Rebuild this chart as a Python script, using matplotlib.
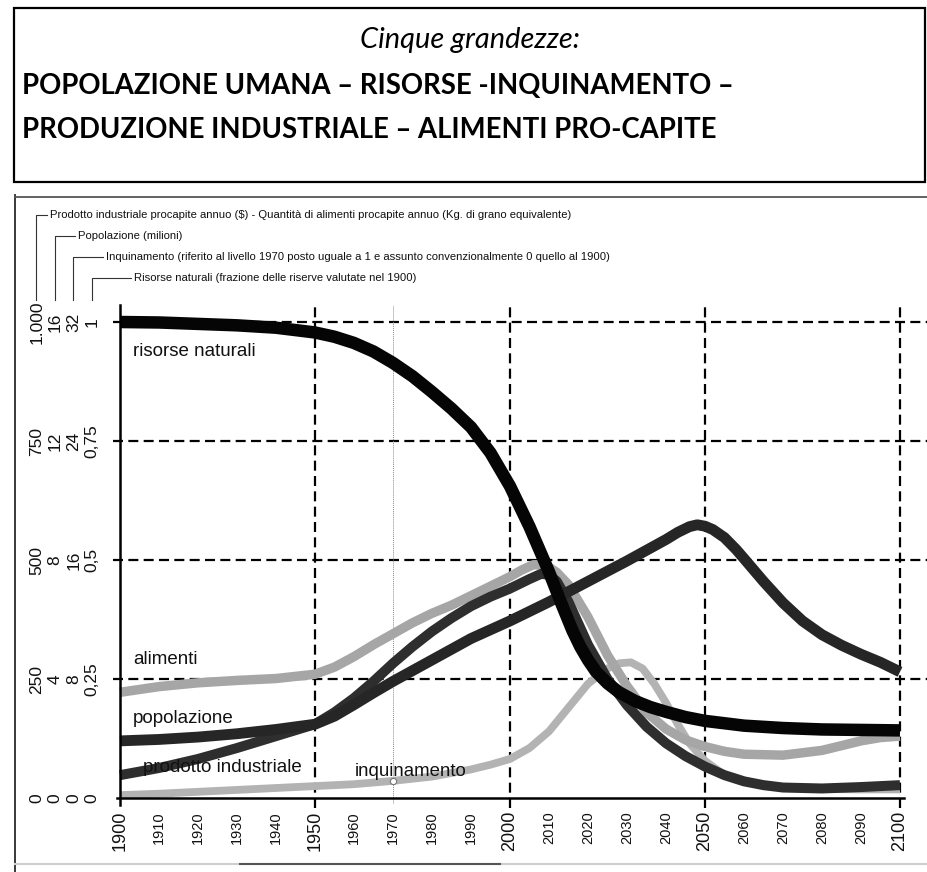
import matplotlib
matplotlib.use("Agg")
import matplotlib.pyplot as plt
from matplotlib import transforms
from matplotlib.lines import Line2D
from matplotlib.patches import Rectangle

# ---------------- data ----------------
risorse_anni = [1900, 1910, 1920, 1930, 1940, 1950, 1955, 1960, 1965, 1970, 1975,
                1980, 1985, 1990, 1995, 2000, 2005, 2010, 2013, 2016, 2018, 2020,
                2022, 2025, 2028, 2032, 2036, 2040, 2045, 2050, 2060, 2070, 2080,
                2090, 2100]
risorse = [1.000, 0.999, 0.996, 0.993, 0.988, 0.978, 0.969, 0.956, 0.938, 0.914,
           0.886, 0.853, 0.818, 0.779, 0.725, 0.655, 0.570, 0.475, 0.412, 0.352,
           0.318, 0.290, 0.266, 0.241, 0.222, 0.204, 0.191, 0.181, 0.170, 0.162,
           0.152, 0.147, 0.144, 0.143, 0.142]

popolazione_anni = [1900, 1910, 1920, 1930, 1940, 1950, 1955, 1960, 1965, 1970,
                    1980, 1990, 2000, 2010, 2020, 2030, 2040, 2043, 2046, 2048,
                    2050, 2052, 2055, 2058, 2060, 2065, 2070, 2075, 2080, 2085,
                    2090, 2095, 2100]
popolazione = [0.120, 0.123, 0.128, 0.135, 0.144, 0.155, 0.172, 0.196, 0.221, 0.245,
               0.290, 0.335, 0.372, 0.412, 0.455, 0.498, 0.543, 0.558, 0.570, 0.574,
               0.571, 0.564, 0.547, 0.522, 0.503, 0.455, 0.410, 0.372, 0.343, 0.321,
               0.302, 0.285, 0.265]

prodotto_anni = [1900, 1910, 1920, 1930, 1940, 1950, 1955, 1960, 1965, 1970, 1975,
                 1980, 1985, 1990, 1995, 2000, 2005, 2008, 2010, 2012, 2015, 2020,
                 2025, 2030, 2035, 2040, 2045, 2050, 2055, 2060, 2065, 2070, 2080,
                 2090, 2100]
prodotto = [0.048, 0.063, 0.082, 0.105, 0.130, 0.155, 0.180, 0.210, 0.245, 0.283,
            0.318, 0.350, 0.378, 0.403, 0.423, 0.440, 0.460, 0.471, 0.469, 0.455,
            0.412, 0.322, 0.250, 0.195, 0.150, 0.115, 0.088, 0.066, 0.048, 0.035,
            0.027, 0.022, 0.020, 0.023, 0.027]

alimenti_anni = [1900, 1910, 1920, 1930, 1940, 1950, 1955, 1960, 1965, 1970, 1975,
                 1980, 1985, 1990, 1995, 2000, 2003, 2006, 2009, 2012, 2015, 2020,
                 2025, 2030, 2035, 2040, 2045, 2050, 2055, 2060, 2070, 2080, 2085,
                 2090, 2095, 2100]
alimenti = [0.222, 0.234, 0.242, 0.247, 0.251, 0.260, 0.275, 0.297, 0.322, 0.345,
            0.368, 0.388, 0.405, 0.425, 0.445, 0.465, 0.479, 0.490, 0.490, 0.474,
            0.448, 0.380, 0.300, 0.235, 0.180, 0.145, 0.122, 0.108, 0.098, 0.092,
            0.090, 0.100, 0.110, 0.120, 0.127, 0.130]

inquinamento_anni = [1900, 1910, 1920, 1930, 1940, 1950, 1960, 1970, 1980, 1990,
                     1995, 2000, 2005, 2010, 2015, 2020, 2025, 2028, 2031, 2034,
                     2037, 2040, 2043, 2046, 2050, 2055, 2060, 2070, 2080, 2090, 2100]
inquinamento = [0.006, 0.009, 0.013, 0.017, 0.021, 0.025, 0.029, 0.036, 0.045, 0.060,
                0.070, 0.082, 0.105, 0.140, 0.190, 0.240, 0.272, 0.283, 0.285, 0.272,
                0.240, 0.200, 0.155, 0.115, 0.078, 0.048, 0.034, 0.022, 0.019, 0.018,
                0.018]

major_years = [1900, 1950, 2000, 2050, 2100]
minor_years = [1910, 1920, 1930, 1940, 1960, 1970, 1980, 1990, 2010, 2020, 2030,
               2040, 2060, 2070, 2080, 2090]
grid_levels = [0.25, 0.5, 0.75, 1.0]
ytick_levels = [0, 0.25, 0.5, 0.75, 1.0]
ycol_industria = ["0", "250", "500", "750", "1.000"]
ycol_popolazione = ["0", "4", "8", "12", "16"]
ycol_inquinamento = ["0", "8", "16", "24", "32"]
ycol_risorse = ["0", "0,25", "0,5", "0,75", "1"]

header_lines = [
    "Prodotto industriale procapite annuo ($) - Quantità di alimenti procapite annuo (Kg. di grano equivalente)",
    "Popolazione (milioni)",
    "Inquinamento (riferito al livello 1970 posto uguale a 1 e assunto convenzionalmente 0 quello al 1900)",
    "Risorse naturali (frazione delle riserve valutate nel 1900)",
]

# ---------------- figure ----------------
W, H = 928, 872
fig = plt.figure(figsize=(W / 100, H / 100), dpi=100)
fig.patch.set_facecolor("white")

def fx(px):
    return px / W

def fy(py):
    return 1 - py / H

SANS = ["Liberation Sans", "DejaVu Sans"]
TITLE = ["Lato", "Open Sans", "DejaVu Sans"]

# title box
fig.patches.append(Rectangle((fx(14), fy(182)), fx(925) - fx(14), fy(8) - fy(182),
                             transform=fig.transFigure, fill=False, lw=1.6,
                             edgecolor="black"))
renderer = fig.canvas.get_renderer()

def fit(t, target):
    w = t.get_window_extent(renderer).width
    t.set_fontsize(t.get_fontsize() * target / w)

t0 = fig.text(fx(470), fy(40), "Cinque grandezze:", ha="center", va="center",
              fontsize=18, style="italic", family=TITLE)
fit(t0, 220)
t1 = fig.text(fx(22), fy(86), "POPOLAZIONE UMANA – RISORSE -INQUINAMENTO –",
              ha="left", va="center", fontsize=18, weight="bold", family=TITLE)
fit(t1, 713)
t2 = fig.text(fx(22), fy(130), "PRODUZIONE INDUSTRIALE – ALIMENTI PRO-CAPITE",
              ha="left", va="center", fontsize=t1.get_fontsize(), weight="bold",
              family=TITLE)

# chart frame (scanned page border)
fig.lines.append(Line2D([fx(15), fx(15)], [fy(195), fy(872)], transform=fig.transFigure,
                        color="#2a2a2a", lw=1.3))
fig.lines.append(Line2D([fx(15), fx(928)], [fy(197), fy(197)], transform=fig.transFigure,
                        color="#555555", lw=1.3))
fig.lines.append(Line2D([fx(15), fx(928)], [fy(864), fy(864)], transform=fig.transFigure,
                        color="#cfcfcf", lw=1.5))
fig.lines.append(Line2D([fx(240), fx(500)], [fy(864), fy(864)], transform=fig.transFigure,
                        color="#555555", lw=1.5))

# header legend lines with brackets
hdr_y = [215, 236, 257, 278]
hdr_vx = [36, 55, 73, 92]
hdr_tx = [50, 78, 106, 134]
ht = []
for txt, yy, vx, tx in zip(header_lines, hdr_y, hdr_vx, hdr_tx):
    t = fig.text(fx(tx), fy(yy), txt, ha="left", va="center", fontsize=8.5,
                 family=SANS, color="#111111")
    ht.append(t)
    fig.lines.append(Line2D([fx(vx), fx(vx), fx(tx - 3)], [fy(300), fy(yy), fy(yy)],
                            transform=fig.transFigure, color="#333333", lw=0.8))
fit(ht[0], 521)
for t in ht[1:]:
    t.set_fontsize(ht[0].get_fontsize())

# ---------------- axes ----------------
x_left, x_right = 120, 928
y_top, y_bot = 300, 798
ax = fig.add_axes([fx(x_left), fy(y_bot), fx(x_right) - fx(x_left), fy(y_top) - fy(y_bot)])
ax.set_xlim(1900, 2100 + (928 - 900) / 3.9)
ax.set_ylim(0, (798 - 300) / 476)
ax.set_facecolor("none")
for s in ["top", "right"]:
    ax.spines[s].set_visible(False)
ax.spines["left"].set_bounds(-0.015, 1.036)
ax.spines["bottom"].set_bounds(1899.2, 2101)
for s in ["left", "bottom"]:
    ax.spines[s].set_linewidth(1.8)
    ax.spines[s].set_color("black")
    ax.spines[s].set_zorder(6)
ax.set_xticks([])
ax.set_yticks([])

dash = (0, (4.5, 2.4))
ax.hlines(grid_levels, 1898.2, ax.get_xlim()[1], colors="black", linestyles=dash,
          lw=1.6, clip_on=False, zorder=1)
ax.vlines([1950, 2000, 2050, 2100], -0.022, 1.036, colors="black", linestyles=dash,
          lw=1.6, clip_on=False, zorder=1)
ax.vlines([1970], -0.01, 1.036, colors="#8a8a8a", linestyles=(0, (1, 1)), lw=0.7,
          clip_on=False, zorder=1)

# curves
kw = dict(solid_capstyle="butt", solid_joinstyle="round", clip_on=False)
ax.plot(inquinamento_anni, inquinamento, color="#b3b3b3", lw=5.6, zorder=2, **kw)
ax.plot(alimenti_anni, alimenti, color="#a6a6a6", lw=6.8, zorder=2, **kw)
ax.plot(prodotto_anni, prodotto, color="#2e2e2e", lw=7.2, zorder=3, **kw)
ax.plot(popolazione_anni, popolazione, color="#262626", lw=7.8, zorder=3, **kw)
ax.plot(risorse_anni, risorse, color="#050505", lw=9.0, zorder=4, **kw)
i70 = inquinamento_anni.index(1970)
ax.plot([inquinamento_anni[i70]], [inquinamento[i70]], marker="o", ms=4.5,
        mfc="white", mec="#777777", mew=0.8, zorder=5, clip_on=False)

# curve labels
lab_kw = dict(family=SANS, fontsize=13.5, color="#111111", va="center", ha="left", zorder=7)
ax.text(1903.3, 0.937, "risorse naturali", **lab_kw)
ax.text(1903.3, 0.292, "alimenti", **lab_kw)
ax.text(1903.3, 0.168, "popolazione", **lab_kw)
ax.text(1905.9, 0.065, "prodotto industriale", **lab_kw)
ax.text(1960.3, 0.055, "inquinamento", **{**lab_kw, "fontsize": 13.4})

# y tick label columns
ytr = transforms.blended_transform_factory(fig.transFigure, ax.transData)
for col_x, col in zip([37, 55, 74, 92], [ycol_industria, ycol_popolazione,
                                         ycol_inquinamento, ycol_risorse]):
    for lvl, lab in zip(ytick_levels, col):
        fig.text(fx(col_x), lvl, lab, transform=ytr, rotation=90, ha="center",
                 va="center", fontsize=12.5, family=SANS, color="#111111")

# x tick labels
xtr = transforms.blended_transform_factory(ax.transData, fig.transFigure)
for yr in major_years:
    fig.text(yr, fy(811), str(yr), transform=xtr, rotation=90, ha="center", va="top",
             fontsize=13, family=SANS, color="#111111")
for yr in minor_years:
    fig.text(yr, fy(811), str(yr), transform=xtr, rotation=90, ha="center", va="top",
             fontsize=10.5, family=SANS, color="#111111")

fig.savefig("out.png", dpi=100, facecolor="white")
